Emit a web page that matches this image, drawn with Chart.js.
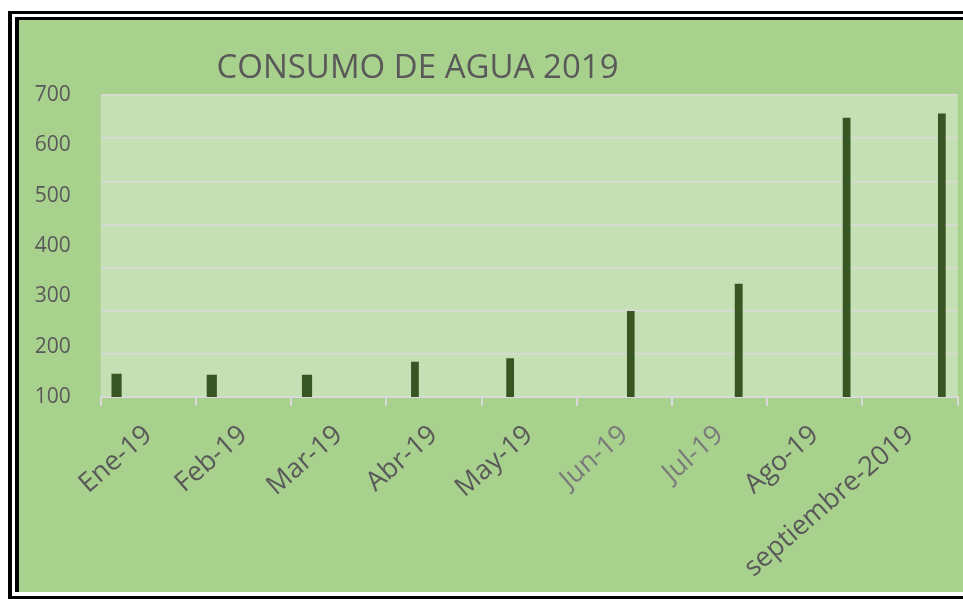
<!DOCTYPE html>
<html><head><meta charset="utf-8">
<script src="https://cdn.jsdelivr.net/npm/chart.js@4.4.0/dist/chart.umd.min.js"></script>
<style>
html,body{margin:0;padding:0;background:#fff;overflow:hidden;width:963px;height:599px;}
#outer{position:absolute;left:8px;top:11px;width:1000px;height:582px;border-left:4px solid #000;border-top:3px solid #000;border-bottom:3px solid #000;}
#inner{position:absolute;left:15px;top:17px;width:1000px;height:572px;border-left:4px solid #000;border-top:3px solid #000;background:#a9d18e;}
#wrap{position:absolute;left:20px;top:20px;width:943px;height:572px;}
</style></head><body>
<div id="outer"></div><div id="inner"></div>
<div id="wrap"><canvas id="c"></canvas></div>
<script>
const titleText = 'CONSUMO DE AGUA 2019';
const categories = ['Ene-19','Feb-19','Mar-19','Abr-19','May-19','Jun-19','Jul-19','Ago-19','septiembre-2019'];
const serie1 = [146, 144, 144, null, null, null, null, null, null];
const serie2 = [null, null, null, 170, 177, null, null, null, null];
const serie3 = [null, null, null, null, null, null, null, null, null];
const serie4 = [null, null, null, null, null, 271, null, null, null];
const serie5 = [null, null, null, null, null, null, 325, null, null];
const serie6 = [null, null, null, null, null, null, null, 655, 663];
const yMin = 100, yMax = 700, yStep = 100;
const gridMin = 0, gridMax = 700;

const barColor = '#375623';
const textColor = '#595959';

const bgPlugin = {
  id: 'bg',
  beforeDraw(chart) {
    const { ctx, chartArea: a } = chart;
    ctx.save();
    ctx.fillStyle = '#c5e0b4';
    ctx.fillRect(a.left, a.top, a.right - a.left, a.bottom - a.top);
    ctx.font = '33px "Open Sans"';
    ctx.fillStyle = textColor;
    ctx.textAlign = 'center';
    ctx.textBaseline = 'alphabetic';
    ctx.fillText(titleText, a.left + 316.8, a.top - 16.7);
    ctx.restore();
  }
};

function ds(data, bp) {
  return { data, backgroundColor: barColor, borderWidth: 0, barPercentage: bp, categoryPercentage: 0.8, yAxisID: 'y' };
}

new Chart(document.getElementById('c'), {
  type: 'bar',
  data: {
    labels: categories,
    datasets: [ds(serie1, 0.8), ds(serie2, 0.61), ds(serie3, 0.61), ds(serie4, 0.6), ds(serie5, 0.62), ds(serie6, 0.61)]
  },
  options: {
    responsive: true,
    maintainAspectRatio: false,
    animation: false,
    layout: { padding: { top: 75, right: 5.3, left: 0, bottom: 0 } },
    plugins: { legend: { display: false }, tooltip: { enabled: false }, title: { display: false } },
    scales: {
      x: {
        type: 'category',
        offset: true,
        grid: { display: true, drawOnChartArea: false, offset: true, color: '#d9d9d9', lineWidth: 2, tickLength: 9 },
        border: { display: true, color: '#d9d9d9', width: 2 },
        ticks: {
          font: { family: 'Open Sans', size: 27 },
          color: (c) => (c.index === 5 || c.index === 6) ? '#7a7a7a' : textColor,
          minRotation: 41, maxRotation: 41, autoSkip: false, padding: 13
        },
        afterFit(s) { s.height = 195; }
      },
      y: {
        type: 'linear', position: 'left', min: yMin, max: yMax,
        ticks: { stepSize: yStep, font: { family: 'Open Sans', size: 21 }, color: textColor, padding: 30 },
        grid: { display: false, drawTicks: false },
        border: { display: false },
        afterFit(s) { s.width = 80.7; }
      },
      yGrid: {
        type: 'linear', position: 'left', min: gridMin, max: gridMax,
        ticks: { display: false, stepSize: yStep },
        grid: { color: '#d9d9d9', lineWidth: 1.5, drawTicks: false },
        border: { display: false },
        afterFit(s) { s.width = 0; }
      }
    }
  },
  plugins: [bgPlugin]
});
</script>
</body></html>
